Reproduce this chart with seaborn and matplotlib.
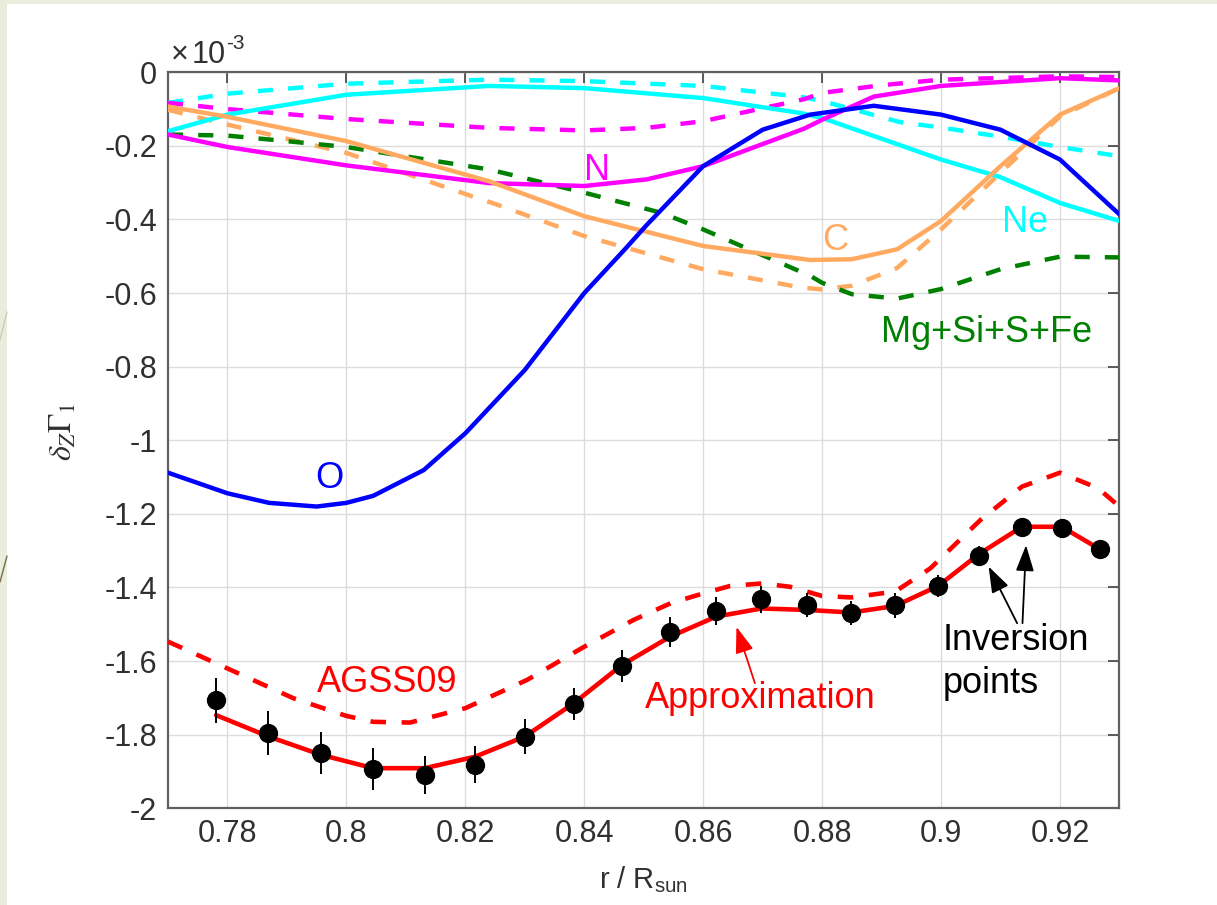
import numpy as np
import matplotlib
matplotlib.use("Agg")
import matplotlib.pyplot as plt
import seaborn as sns
from matplotlib.ticker import FuncFormatter
from matplotlib.patches import Rectangle
from matplotlib.lines import Line2D

# ---------------- data (delta_Z Gamma_1 in units of 1e-3) ----------------
r_O = [0.770, 0.780, 0.787, 0.795, 0.800, 0.8045, 0.813, 0.820, 0.830, 0.840,
       0.847, 0.8505, 0.860, 0.870, 0.878, 0.8887, 0.900, 0.910, 0.920, 0.930]
g_O = [-1.088, -1.144, -1.170, -1.180, -1.170, -1.151, -1.081, -0.981, -0.809, -0.600,
       -0.478, -0.415, -0.255, -0.156, -0.115, -0.091, -0.115, -0.156, -0.237, -0.386]

r_Ne = [0.770, 0.780, 0.800, 0.824, 0.840, 0.860, 0.8765, 0.880, 0.900, 0.910, 0.920, 0.930]
g_Ne = [-0.160, -0.115, -0.061, -0.037, -0.043, -0.070, -0.111, -0.124, -0.237, -0.285, -0.355, -0.404]
r_Ne_ref = [0.770, 0.780, 0.800, 0.824, 0.840, 0.860, 0.8765, 0.880, 0.893, 0.900, 0.910, 0.920, 0.930]
g_Ne_ref = [-0.083, -0.058, -0.031, -0.020, -0.024, -0.037, -0.067, -0.078, -0.135, -0.150, -0.175, -0.203, -0.228]

r_N = [0.770, 0.780, 0.800, 0.824, 0.840, 0.8505, 0.860, 0.877, 0.880, 0.8887, 0.900, 0.920, 0.930]
g_N = [-0.169, -0.203, -0.253, -0.301, -0.309, -0.291, -0.255, -0.153, -0.129, -0.066, -0.037, -0.016, -0.022]
r_N_ref = [0.770, 0.780, 0.800, 0.824, 0.840, 0.8505, 0.860, 0.877, 0.880, 0.890, 0.900, 0.920, 0.930]
g_N_ref = [-0.083, -0.100, -0.127, -0.151, -0.158, -0.151, -0.133, -0.073, -0.056, -0.035, -0.020, -0.011, -0.013]

r_C = [0.770, 0.780, 0.800, 0.824, 0.840, 0.860, 0.878, 0.885, 0.8926, 0.900, 0.910, 0.920, 0.930]
g_C = [-0.093, -0.121, -0.187, -0.296, -0.391, -0.472, -0.510, -0.508, -0.481, -0.404, -0.255, -0.115, -0.043]
r_C_ref = [0.770, 0.780, 0.800, 0.8213, 0.8247, 0.840, 0.860, 0.8765, 0.880, 0.885, 0.8926, 0.900, 0.910, 0.920, 0.930]
g_C_ref = [-0.102, -0.142, -0.219, -0.338, -0.356, -0.445, -0.535, -0.585, -0.590, -0.580, -0.532, -0.427, -0.273, -0.120, -0.043]

r_Mg_ref = [0.770, 0.780, 0.7912, 0.800, 0.824, 0.840, 0.853, 0.860, 0.878, 0.880, 0.885,
            0.8926, 0.900, 0.910, 0.920, 0.930]
g_Mg_ref = [-0.169, -0.172, -0.189, -0.203, -0.264, -0.327, -0.382, -0.427, -0.553, -0.572, -0.603,
            -0.615, -0.589, -0.535, -0.501, -0.503]

r_agss = [0.770, 0.780, 0.7911, 0.800, 0.8045, 0.8107, 0.820, 0.8304, 0.840, 0.8483, 0.8545,
          0.860, 0.8645, 0.8699, 0.8746, 0.880, 0.8849, 0.8923, 0.8982, 0.9066, 0.9136, 0.920,
          0.9264, 0.930]
g_agss = [-1.547, -1.620, -1.701, -1.749, -1.765, -1.767, -1.728, -1.651, -1.561, -1.488, -1.443,
          -1.416, -1.396, -1.389, -1.398, -1.423, -1.427, -1.411, -1.348, -1.217, -1.126, -1.088,
          -1.130, -1.180]

r_inv = [0.7781, 0.7869, 0.7958, 0.8045, 0.8132, 0.8216, 0.8300, 0.8382, 0.8463, 0.8544,
         0.8622, 0.8698, 0.8775, 0.8849, 0.8923, 0.8995, 0.9064, 0.9136, 0.9203, 0.9267]
g_inv = [-1.706, -1.795, -1.851, -1.894, -1.910, -1.882, -1.805, -1.717, -1.613, -1.520,
         -1.463, -1.432, -1.448, -1.470, -1.448, -1.396, -1.314, -1.235, -1.239, -1.296]
e_inv = [0.061, 0.059, 0.057, 0.057, 0.052, 0.050, 0.047, 0.043, 0.043, 0.041,
         0.038, 0.037, 0.032, 0.033, 0.034, 0.030, 0.026, 0.024, 0.022, 0.025]
g_approx = [-1.747, -1.805, -1.855, -1.891, -1.891, -1.860, -1.805, -1.715, -1.611, -1.534,
            -1.479, -1.457, -1.461, -1.468, -1.450, -1.396, -1.309, -1.235, -1.235, -1.296]

x_ticks = [0.78, 0.80, 0.82, 0.84, 0.86, 0.88, 0.90, 0.92]
y_ticks = [-2.0, -1.8, -1.6, -1.4, -1.2, -1.0, -0.8, -0.6, -0.4, -0.2, 0.0]

# ---------------- style ----------------
sns.set_style("white")
plt.rcParams['font.family'] = ['Liberation Sans', 'DejaVu Sans']
plt.rcParams['axes.unicode_minus'] = False
plt.rcParams['mathtext.fontset'] = 'custom'
plt.rcParams['mathtext.rm'] = 'Liberation Sans'
plt.rcParams['mathtext.it'] = 'Liberation Sans:italic'

W, H = 1217, 905
fig = plt.figure(figsize=(W / 100, H / 100), dpi=100, facecolor='#E9EDDB')
fig.patches.append(Rectangle((7 / W, 0), 1, 1 - 4 / H, transform=fig.transFigure,
                             facecolor='white', edgecolor='none', zorder=-2))
# slide decoration lines in the left margin
fig.add_artist(Line2D([0, 7 / W], [1 - 340 / H, 1 - 312 / H], color='#C9CDB8', lw=1.0, zorder=-1))
fig.add_artist(Line2D([0, 7 / W], [1 - 582 / H, 1 - 556 / H], color='#7A6A4A', lw=1.0, zorder=-1))

ax = fig.add_axes([168 / W, 1 - 808.3 / H, (1119.4 - 168) / W, (808.3 - 72.3) / H])
ax.set_zorder(1)
ax.set_facecolor('white')

LW = 3.2
DASH = (0, (3.4, 3.4))

def line(x, y, color, ls='-', lw=LW, z=3):
    sns.lineplot(x=x, y=y, ax=ax, color=color, linewidth=lw, linestyle=ls,
                 sort=False, zorder=z, legend=False)

line(r_Ne_ref, g_Ne_ref, '#00FFFF', DASH)
line(r_N_ref, g_N_ref, '#FF00FF', DASH)
line(r_C_ref, g_C_ref, '#FFAA60', DASH)
line(r_Mg_ref, g_Mg_ref, '#008000', DASH)
line(r_Ne, g_Ne, '#00FFFF')
line(r_N, g_N, '#FF00FF')
line(r_C, g_C, '#FFAA60')
line(r_O, g_O, '#0000FF')
line(r_agss, g_agss, '#FF0000', DASH, lw=3.3)
line(r_inv, g_approx, '#FF0000', '-', lw=3.3)

ax.errorbar(r_inv, g_inv, yerr=e_inv, fmt='none', ecolor='black', elinewidth=1.4,
            capsize=0, zorder=5)
sns.scatterplot(x=r_inv, y=g_inv, ax=ax, color='black', edgecolor='black', s=165,
                zorder=6, legend=False)

# ---------------- axes ----------------
ax.set_xlim(0.77, 0.93)
ax.set_ylim(-2.0, 0.0)
ax.set_xticks(x_ticks)
ax.set_yticks(y_ticks)
fmt = FuncFormatter(lambda v, p: "0" if abs(v) < 1e-9 else f"{v:g}")
ax.xaxis.set_major_formatter(fmt)
ax.yaxis.set_major_formatter(fmt)
ax.tick_params(direction='in', length=8, width=1.2, top=True, right=True,
               labelsize=22, labelcolor='#303030', color='#404040')
ax.tick_params(axis='x', pad=8)
ax.tick_params(axis='y', pad=8)
ax.grid(True, color='#DCDCDC', lw=1.0)
ax.set_axisbelow(True)
for s in ax.spines.values():
    s.set_color('#606060')
    s.set_linewidth(1.6)

ax.set_xlabel(r'r / R$_{\mathrm{sun}}$', fontsize=21, color='#303030', math_fontfamily='custom')
ax.xaxis.set_label_coords(0.5, (808.3 - 888) / 736)
ax.xaxis.label.set_verticalalignment('baseline')
ax.set_ylabel(r'$\delta_Z\Gamma_1$', fontsize=23, color='#303030', math_fontfamily='stix')
ax.yaxis.set_label_coords((64 - 168) / 951.4, (808.3 - 432) / 736)
ax.yaxis.label.set_verticalalignment('center')

# exponent marker
fig.text(171 / W, 1 - 63 / H, '\u00d7', fontsize=22, color='#303030', va='baseline', ha='left')
fig.text(192 / W, 1 - 63 / H, '10', fontsize=22, color='#303030', va='baseline', ha='left')
fig.text(226 / W, 1 - 49 / H, '-3', fontsize=15, color='#303030', va='baseline', ha='left')

# ---------------- labels ----------------
FS = 26
ax.text(0.8421, -0.293, 'N', color='#FF00FF', fontsize=FS, ha='center', va='baseline')
ax.text(0.8822, -0.483, 'C', color='#FFAA60', fontsize=FS, ha='center', va='baseline')
ax.text(0.9141, -0.434, 'Ne', color='#00FFFF', fontsize=FS, ha='center', va='baseline')
ax.text(0.9077, -0.733, 'Mg+Si+S+Fe', color='#008000', fontsize=FS, ha='center', va='baseline')
ax.text(0.7972, -1.130, 'O', color='#0000FF', fontsize=FS, ha='center', va='baseline')
ax.text(0.8068, -1.684, 'AGSS09', color='#FF0000', fontsize=FS, ha='center', va='baseline')
ax.text(0.8696, -1.727, 'Approximation', color='#FF0000', fontsize=FS, ha='center', va='baseline')
ax.text(0.9003, -1.570, 'Inversion', color='black', fontsize=FS, ha='left', va='baseline')
ax.text(0.9003, -1.687, 'points', color='black', fontsize=FS, ha='left', va='baseline')

arrow_kw = dict(arrowstyle='-|>,head_length=0.8,head_width=0.28', lw=1.3,
                shrinkA=0, shrinkB=0, mutation_scale=20)
ax.annotate('', xy=(0.8656, -1.507), xytext=(0.8687, -1.660),
            arrowprops=dict(color='#FF0000', **arrow_kw))
ax.annotate('', xy=(0.9080, -1.343), xytext=(0.9128, -1.497),
            arrowprops=dict(color='black', **arrow_kw))
ax.annotate('', xy=(0.9143, -1.285), xytext=(0.9137, -1.497),
            arrowprops=dict(color='black', **arrow_kw))

fig.savefig('out.png', dpi=100, facecolor=fig.get_facecolor())
